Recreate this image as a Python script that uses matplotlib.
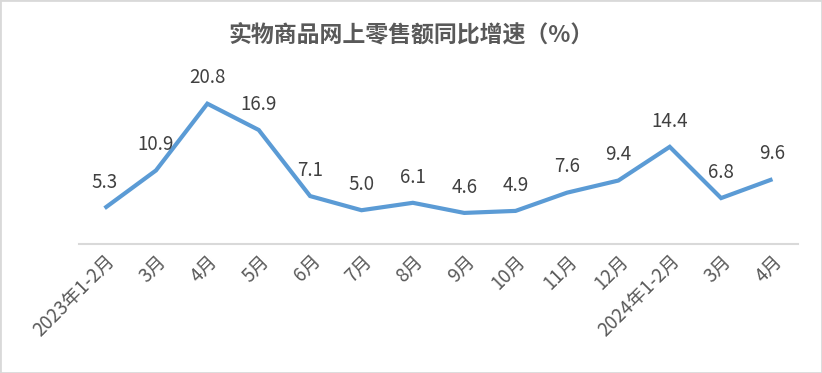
import matplotlib.pyplot as plt
from matplotlib.patches import Rectangle

plt.rcParams['font.family'] = ['Noto Sans CJK SC', 'DejaVu Sans']

# ─── DATA ──────────────────────────────────────────────────────────────────────
MONTHS = ["2023年1-2月", "3月", "4月", "5月", "6月", "7月", "8月", "9月",
          "10月", "11月", "12月", "2024年1-2月", "3月", "4月"]
GROWTH = [5.3, 10.9, 20.8, 16.9, 7.1, 5.0, 6.1, 4.6, 4.9, 7.6, 9.4, 14.4, 6.8, 9.6]
TITLE = "实物商品网上零售额同比增速（%）"
# ────────────────────────────────────────────────────────────────────────────────

TEXT = "#595959"
LINE = "#5B9BD5"

fig = plt.figure(figsize=(8.22, 3.73), dpi=100)
ax = fig.add_axes([0.096, 0.346, 0.875, 0.452])

x = range(len(MONTHS))
ax.plot(x, GROWTH, color=LINE, lw=3, solid_joinstyle="miter", solid_capstyle="butt")
for i, v in zip(x, GROWTH):
    ax.annotate(f"{v:.1f}", (i, v), xytext=(0, 11), textcoords="offset points",
                ha="center", va="bottom", fontsize=13.5, color="#404040")

ax.set_xlim(-0.5, len(MONTHS) - 0.5)
ax.set_ylim(0, 25)
ax.set_xticks(list(x))
ax.set_xticklabels(MONTHS, rotation=45, ha="right", rotation_mode="anchor",
                   fontsize=13.5, color=TEXT)
ax.tick_params(axis="x", length=0, pad=5)
ax.set_yticks([])
for side in ("top", "right", "left"):
    ax.spines[side].set_visible(False)
ax.spines["bottom"].set_color("#d9d9d9")
ax.spines["bottom"].set_linewidth(1.5)

fig.text(0.5, 0.906, TITLE, ha="center", va="center", fontsize=16.5,
         fontweight="bold", color=TEXT)

fig.patches.append(Rectangle((0, 0), 1, 1, transform=fig.transFigure,
                             fill=False, edgecolor="#d9d9d9", lw=2))

fig.savefig("out.png", dpi=100)
